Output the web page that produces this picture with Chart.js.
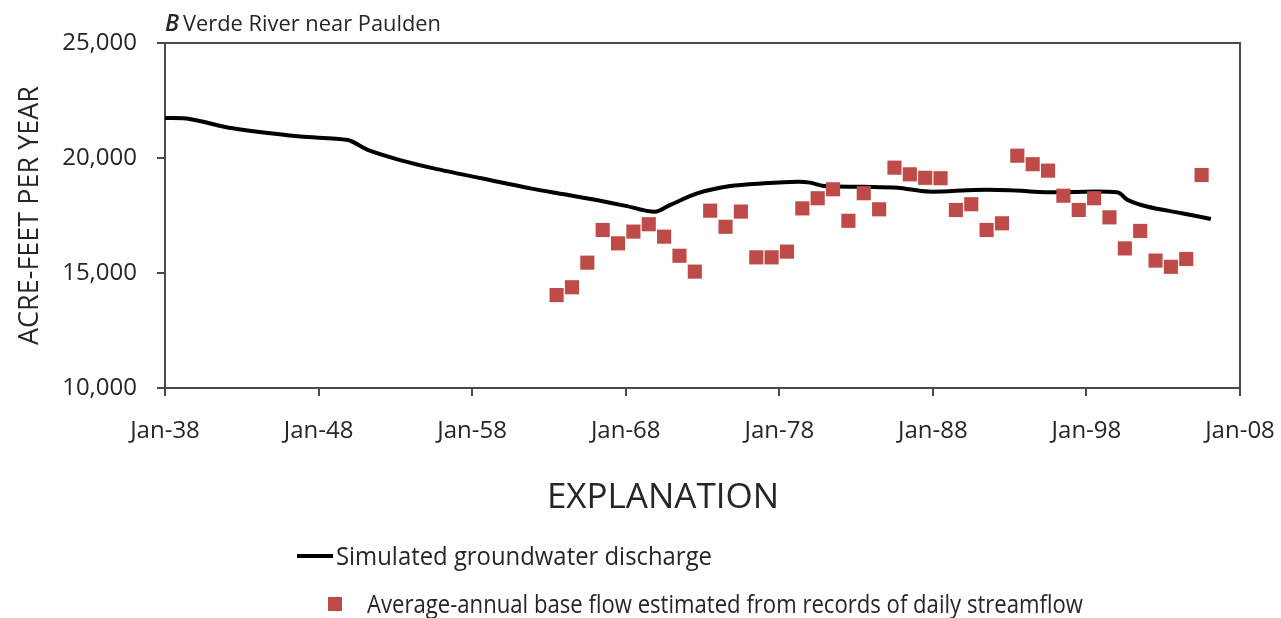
<!DOCTYPE html>
<html>
<head>
<meta charset="utf-8">
<script src="https://cdn.jsdelivr.net/npm/chart.js@4.4.1/dist/chart.umd.min.js"></script>
<style>
  html, body { margin: 0; padding: 0; background: #fff; }
  #wrap { width: 1281px; height: 618px; }
</style>
</head>
<body>
<div id="wrap"><canvas id="flowChart" width="1281" height="618"></canvas></div>
<script>
// Verde River near Paulden: simulated discharge vs. estimated base flow
const panelLetter = "B";
const panelTitle = "Verde River near Paulden";
const yAxisTitle = "ACRE-FEET PER YEAR";
const explanationTitle = "EXPLANATION";

const tickYears = [1938, 1948, 1958, 1968, 1978, 1988, 1998, 2008];
const valueTicks = [10000, 15000, 20000, 25000];

// simulated groundwater discharge (year, acre-ft/yr)
const simYears = [1938, 1939.6, 1942.4, 1946.8, 1949.9, 1951.2, 1953.3, 1955.5, 1958.5, 1961.8,
  1964, 1966.1, 1968, 1969.9, 1970.9, 1972.7, 1974.8, 1977, 1979.2, 1980, 1980.9, 1983.5,
  1985.7, 1987.7, 1990.7, 1993, 1995.5, 2000, 2000.7, 2002, 2004.2, 2006.1];
const simValues = [21740, 21700, 21290, 20930, 20780, 20350, 19910, 19550, 19130, 18680,
  18420, 18170, 17920, 17660, 17960, 18470, 18780, 18900, 18970, 18930, 18780, 18750,
  18710, 18540, 18610, 18600, 18510, 18510, 18170, 17880, 17600, 17350];

// average-annual base flow, one value per year starting mid-1963
const baseflowYears = [];
for (let y = 1963.5; y <= 2005.5; y += 1) baseflowYears.push(y);
const baseflowValues = [14040, 14380, 15450, 16870, 16290, 16800, 17120, 16580, 15750, 15060,
  17710, 17010, 17670, 15680, 15680, 15930, 17810, 18250, 18640, 17270, 18470, 17770,
  19580, 19290, 19140, 19120, 17740, 17990, 16870, 17160, 20100, 19730, 19450, 18360,
  17740, 18250, 17420, 16070, 16830, 15540, 15270, 15610, 19260];

const seriesLabels = [
  "Simulated groundwater discharge",
  "Average-annual base flow estimated from records of daily streamflow"
];

const FONT = "'Open Sans', 'DejaVu Sans', sans-serif";
const AXIS_COLOR = "#4a4a4a";
const TEXT_COLOR = "#262626";
const MARKER_COLOR = "#be4b48";

const toPoints = (xs, ys) => xs.map((x, i) => ({ x: x, y: ys[i] }));

// frame, panel title and the explanation block under the plot
const extrasPlugin = {
  id: "extras",
  afterDraw(chart) {
    const ctx = chart.ctx;
    const a = chart.chartArea;
    ctx.save();
    ctx.strokeStyle = AXIS_COLOR;
    ctx.lineWidth = 2;
    ctx.beginPath();
    ctx.moveTo(a.left - 8, a.top);
    ctx.lineTo(a.right, a.top);
    ctx.lineTo(a.right, a.bottom);
    ctx.stroke();

    ctx.fillStyle = TEXT_COLOR;
    ctx.textBaseline = "alphabetic";
    ctx.textAlign = "left";
    ctx.font = "italic 600 23px " + FONT;
    ctx.fillText(panelLetter, 165, 31);
    ctx.font = "22px " + FONT;
    ctx.fillText(panelTitle, 183, 31, 258);

    ctx.textAlign = "center";
    ctx.font = "35px " + FONT;
    ctx.fillText(explanationTitle, 663, 508, 242);

    const ds = chart.data.datasets;
    // line sample
    ctx.strokeStyle = ds[0].borderColor;
    ctx.lineWidth = 4;
    ctx.beginPath();
    ctx.moveTo(297, 556);
    ctx.lineTo(333, 556);
    ctx.stroke();
    // square sample
    ctx.fillStyle = ds[1].backgroundColor;
    ctx.fillRect(328, 597, 14, 14);

    ctx.fillStyle = TEXT_COLOR;
    ctx.textAlign = "left";
    ctx.font = "26px " + FONT;
    ctx.fillText(ds[0].label, 336, 565, 376);
    ctx.fillText(ds[1].label, 367, 613, 716);
    ctx.restore();
  }
};

new Chart(document.getElementById("flowChart"), {
  type: "scatter",
  data: {
    datasets: [
      {
        type: "line",
        label: seriesLabels[0],
        data: toPoints(simYears, simValues),
        borderColor: "#000",
        borderWidth: 4,
        pointRadius: 0,
        tension: 0.3,
        borderJoinStyle: "round",
        order: 1
      },
      {
        label: seriesLabels[1],
        data: toPoints(baseflowYears, baseflowValues),
        pointStyle: "rect",
        pointRadius: 10,
        backgroundColor: MARKER_COLOR,
        borderColor: MARKER_COLOR,
        borderWidth: 0,
        order: 0
      }
    ]
  },
  options: {
    responsive: false,
    animation: false,
    layout: { padding: { top: 43, right: 41, bottom: 0, left: 0 } },
    plugins: {
      legend: { display: false },
      tooltip: { enabled: false }
    },
    scales: {
      x: {
        type: "linear",
        min: 1938,
        max: 2008,
        afterBuildTicks: (s) => { s.ticks = tickYears.map(v => ({ value: v })); },
        afterFit: (s) => { s.height = 230; s.paddingLeft = 0; s.paddingRight = 0; },
        grid: { display: true, drawOnChartArea: false, color: AXIS_COLOR, lineWidth: 2, tickLength: 8 },
        border: { display: true, color: AXIS_COLOR, width: 2 },
        ticks: {
          color: TEXT_COLOR,
          font: { family: FONT, size: 24 },
          padding: 21,
          maxRotation: 0,
          callback: (v) => "Jan-" + String(v % 100).padStart(2, "0")
        }
      },
      y: {
        min: 10000,
        max: 25000,
        afterBuildTicks: (s) => { s.ticks = valueTicks.map(v => ({ value: v })); },
        afterFit: (s) => { s.width = 165; s.paddingTop = 0; s.paddingBottom = 0; },
        grid: { display: true, drawOnChartArea: false, color: AXIS_COLOR, lineWidth: 2, tickLength: 8 },
        border: { display: true, color: AXIS_COLOR, width: 2 },
        title: {
          display: true,
          text: yAxisTitle,
          color: TEXT_COLOR,
          font: { family: FONT, size: 27 },
          padding: { top: 14, bottom: 0 }
        },
        ticks: {
          color: TEXT_COLOR,
          font: { family: FONT, size: 24 },
          padding: 20,
          callback: (v) => v.toLocaleString("en-US")
        }
      }
    }
  },
  plugins: [extrasPlugin]
});
</script>
</body>
</html>
